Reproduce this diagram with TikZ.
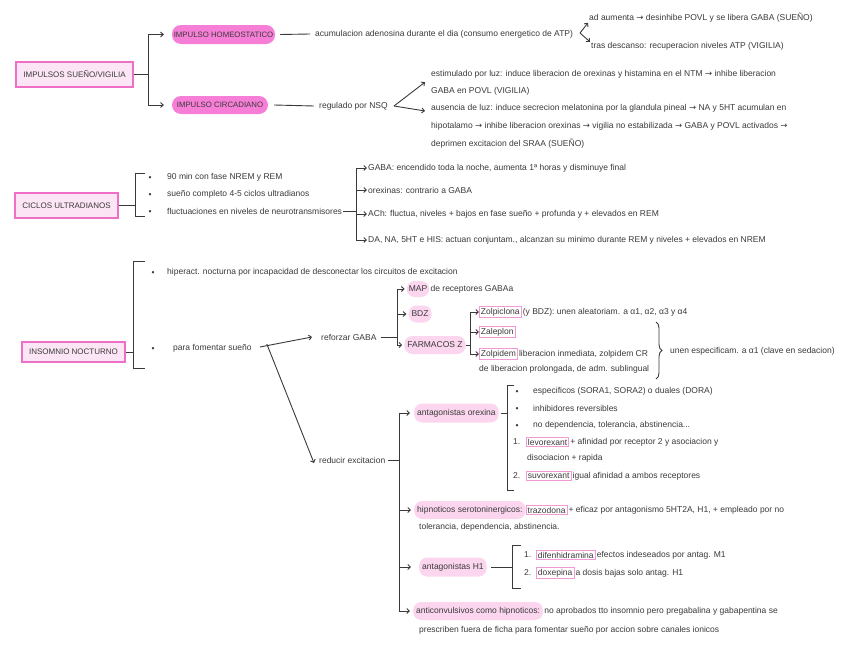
\documentclass[tikz,border=0pt]{standalone}
\usepackage{fontspec}
\setmainfont{Liberation Sans}
\newfontfamily\symfont{DejaVu Sans}
\newcommand{\ar}{{\symfont\char"2192}}
\usetikzlibrary{arrows.meta,decorations.pathreplacing,calc}
\definecolor{hotpink}{HTML}{F77ED6}
\definecolor{lightpink}{HTML}{FBD6EE}
\definecolor{boxpink}{HTML}{EE6FC6}
\definecolor{boxfill}{HTML}{FCE6F5}
\definecolor{tagpink}{HTML}{F29AD6}
\definecolor{ink}{HTML}{3A3A3A}
\begin{document}
\begin{tikzpicture}[x=1pt,y=-1pt,
  every node/.style={font=\fontsize{8.5}{10}\selectfont, text=ink},
  txt/.style={anchor=west, inner sep=1pt},
  bul/.style={inner sep=0pt, yshift=-1.5pt},
  mainbox/.style={draw=boxpink, fill=boxfill, line width=1.3pt, inner sep=0pt, font=\fontsize{8}{9}\selectfont},
  hotpill/.style={fill=hotpink, rounded corners=9pt, inner sep=0pt, font=\fontsize{7.8}{9}\selectfont},
  softpill/.style={fill=lightpink, rounded corners=8pt, inner xsep=3pt, inner ysep=0pt, minimum height=18pt},
  tag/.style={draw=tagpink, line width=0.9pt, inner xsep=1.5pt, inner ysep=1.8pt},
  ln/.style={draw=ink, line width=0.9pt},
  arr/.style={ln, -{Straight Barb[length=2.6pt,width=5pt]}}
]
\useasboundingbox[fill=white] (0,0) rectangle (848,656);

% ================= TOP =================
\node[mainbox, minimum width=117pt, minimum height=25pt] (isv) at (74.5,74.5) {IMPULSOS SUEÑO/VIGILIA};
\node[hotpill, minimum width=103pt, minimum height=19pt] (ih) at (223.5,34.5) {IMPULSO HOMEOSTATICO};
\node[hotpill, minimum width=96pt, minimum height=18pt] (ic) at (220,105) {IMPULSO CIRCADIANO};
\coordinate (b1) at (148,74.5);
\draw[ln] (isv.east) -- (b1);
\draw[arr, shorten >=8pt] (b1) |- (ih.west);
\draw[arr, shorten >=8pt] (b1) |- (ic.west);

\node[txt] (acu) at (314,34) {acumulacion adenosina durante el dia (consumo energetico de ATP)};
\draw[ln] ([xshift=5pt]ih.east) -- ([xshift=-4pt]acu.west);
\coordinate (v1) at (580,33);
\node[txt] (ad) at (588,18) {ad aumenta \ar{} desinhibe POVL y se libera GABA (SUEÑO)};
\node[txt] (tras) at (590,46) {tras descanso: recuperacion niveles ATP (VIGILIA)};
\draw[arr] (v1) -- ($(ad.south west)+(0,-1)$);
\draw[arr] (v1) -- ($(tras.north west)+(0,1)$);

\node[txt] (reg) at (318,106) {regulado por NSQ};
\draw[ln] ([xshift=6pt]ic.east) -- ([xshift=-4pt]reg.west);
\coordinate (v2) at (394,106);
\node[txt] (e1) at (430,74) {estimulado por luz: induce liberacion de orexinas y histamina en el NTM \ar{} inhibe liberacion};
\node[txt] (e2) at (430,91) {GABA en POVL (VIGILIA)};
\node[txt] (a1) at (430,108) {ausencia de luz: induce secrecion melatonina por la glandula pineal \ar{} NA y 5HT acumulan en};
\node[txt] (a2) at (430,126) {hipotalamo \ar{} inhibe liberacion orexinas \ar{} vigilia no estabilizada \ar{} GABA y POVL activados \ar};
\node[txt] (a3) at (430,144) {deprimen excitacion del SRAA (SUEÑO)};
\draw[arr] (v2) -- ($(e1.south west)+(-5,3)$);
\draw[arr] (v2) -- ($(a1.west)+(-5,3)$);

% ================= MIDDLE =================
\node[mainbox, minimum width=103pt, minimum height=25pt] (cu) at (66.5,205.5) {CICLOS ULTRADIANOS};
\coordinate (b2) at (135,205.5);
\draw[ln] (cu.east) -- (b2);
\draw[ln] (145,173) -- (135,173) -- (135,216) -- (145,216);
\node[bul] at (150,177) {\textbullet};
\node[bul] at (150,194) {\textbullet};
\node[bul] at (150,211) {\textbullet};
\node[txt] (c1) at (166,177) {90 min con fase NREM y REM};
\node[txt] (c2) at (166,194) {sueño completo 4-5 ciclos ultradianos};
\node[txt] (c3) at (166,211) {fluctuaciones en niveles de neurotransmisores};
\coordinate (b3) at (356,211);
\draw[ln] (c3.east) -- (b3);
\node[txt] (g1) at (367,168) {GABA: encendido toda la noche, aumenta 1ª horas y disminuye final};
\node[txt] (g2) at (367,190) {orexinas: contrario a GABA};
\node[txt] (g3) at (367,214) {ACh: fluctua, niveles + bajos en fase sueño + profunda y + elevados en REM};
\node[txt] (g4) at (367,240) {DA, NA, 5HT e HIS: actuan conjuntam., alcanzan su minimo durante REM y niveles + elevados en NREM};
\draw[arr] (b3) |- (g1.west);
\draw[arr] (b3) |- (g2.west);
\draw[arr] (b3) |- (g3.west);
\draw[arr] (b3) |- (g4.west);

% ================= BOTTOM =================
\node[mainbox, minimum width=103pt, minimum height=20pt] (ins) at (73.5,352) {INSOMNIO NOCTURNO};
\coordinate (b4) at (133,352);
\draw[ln] (ins.east) -- (b4);
\draw[ln] (145,261) -- (133,261) -- (133,368) -- (145,368);
\node[bul] at (153,272) {\textbullet};
\node[txt] (h1) at (166,272) {hiperact. nocturna por incapacidad de desconectar los circuitos de excitacion};
\node[bul] at (153,348) {\textbullet};
\node[txt] (pf) at (172,348) {para fomentar sueño};
\node[txt] (rg) at (320,337) {reforzar GABA};
\node[txt] (re) at (318,460) {reducir excitacion};
\draw[arr] ([xshift=7pt,yshift=1pt]pf.east) -- ([xshift=-8pt]rg.west);
\draw[arr] ([xshift=14pt,yshift=4pt]pf.east) -- ([xshift=-4pt,yshift=-3pt]re.west);

% reforzar GABA
\coordinate (b5) at (397,337);
\draw[ln] ([xshift=3pt]rg.east) -- (b5);
\node[softpill, minimum height=16pt, inner xsep=2pt] (map) at (418,289) {MAP};
\node[txt] (mapt) at (map.east) {de receptores GABAa};
\node[softpill, minimum height=17pt] (bdz) at (420,314) {BDZ};
\node[softpill] (fz) at (435,345) {FARMACOS Z};
\draw[arr, shorten >=2pt] (b5) |- (map.west);
\draw[arr, shorten >=2pt] (b5) |- (bdz.west);
\draw[arr, shorten >=2pt] (b5) |- (fz.west);

\coordinate (b6) at (470,345);
\draw[ln] (fz.east) -- (b6);
\node[tag, anchor=west] (zc) at (479,312) {Zolpiclona};
\node[txt] (zct) at (zc.east) {(y BDZ): unen aleatoriam. a α1, α2, α3 y α4};
\node[tag, anchor=west] (zl) at (479,332) {Zaleplon};
\node[tag, anchor=west] (zd) at (479,354) {Zolpidem};
\node[txt] (zdt) at (zd.east) {liberacion inmediata, zolpidem CR};
\node[txt] (zd2) at (478,369) {de liberacion prolongada, de adm. sublingual};
\draw[arr] (b6) |- (zc.west);
\draw[arr] (b6) |- (zl.west);
\draw[arr] (b6) |- (zd.west);
\coordinate (br1) at (656,322);
\coordinate (br2) at (656,379);
\draw[ln, decorate, decoration={brace, amplitude=6pt}] (br1) -- (br2);
\node[txt] (une) at (669,351) {unen especificam. a α1 (clave en sedacion)};

% reducir excitacion
\coordinate (b7) at (399,460);
\draw[ln] ([xshift=1pt]re.east) -- (b7);
\node[softpill, minimum height=19pt, anchor=west] (ao) at (414,413) {antagonistas orexina};
\node[softpill, anchor=west] (hs) at (414,510) {hipnoticos serotoninergicos:};
\node[tag, anchor=west] (tz) at (hs.east) {trazodona};
\node[txt] (tzt) at (tz.east) {+ eficaz por antagonismo 5HT2A, H1, + empleado por no};
\node[txt] (tz2) at (418,527) {tolerancia, dependencia, abstinencia.};
\node[softpill, minimum height=19pt, anchor=west] (ah) at (419,567) {antagonistas H1};
\node[softpill, anchor=west] (ac) at (413,611) {anticonvulsivos como hipnoticos:};
\node[txt] (act) at (ac.east) {no aprobados tto insomnio pero pregabalina y gabapentina se};
\node[txt] (ac2) at (418,630) {prescriben fuera de ficha para fomentar sueño por accion sobre canales ionicos};
\draw[ln] (b7) -- (399,413);
\draw[arr, shorten >=4pt] (399,413) -- (ao.west);
\draw[arr, shorten >=3pt] (b7) |- (hs.west);
\draw[arr, shorten >=8pt] (b7) |- (ah.west);
\draw[arr, shorten >=3pt] (b7) |- (ac.west);

% orexina bracket
\coordinate (b8) at (507,413);
\draw[ln] ([xshift=2pt]ao.east) -- (b8);
\draw[ln] (514,385) -- (507,385) -- (507,490) -- (514,490);
\node[bul] at (517,391) {\textbullet};
\node[bul] at (517,408) {\textbullet};
\node[bul] at (517,425) {\textbullet};
\node[txt] (o1) at (532,391) {especificos (SORA1, SORA2) o duales (DORA)};
\node[txt] (o2) at (532,408) {inhibidores reversibles};
\node[txt] (o3) at (532,425) {no dependencia, tolerancia, abstinencia...};
\node[txt] (n1) at (512,442) {1.};
\node[tag, anchor=west] (lv) at (526,442) {levorexant};
\node[txt] (lvt) at (lv.east) {+ afinidad por receptor 2 y asociacion y};
\node[txt] (lv2) at (526,458) {disociacion + rapida};
\node[txt] (n2) at (512,476) {2.};
\node[tag, anchor=west] (sv) at (526,476) {suvorexant};
\node[txt] (svt) at (sv.east) {igual afinidad a ambos receptores};

% H1 bracket
\coordinate (b9) at (512,567);
\draw[ln] ([xshift=4pt]ah.east) -- (b9);
\draw[ln] (521,545) -- (512,545) -- (512,588) -- (521,588);
\node[txt] (m1) at (523,555) {1.};
\node[tag, anchor=west] (dif) at (536,555) {difenhidramina};
\node[txt] (dift) at (dif.east) {efectos indeseados por antag. M1};
\node[txt] (m2) at (523,573) {2.};
\node[tag, anchor=west] (dox) at (536,573) {doxepina};
\node[txt] (doxt) at (dox.east) {a dosis bajas solo antag. H1};
\end{tikzpicture}
\end{document}
